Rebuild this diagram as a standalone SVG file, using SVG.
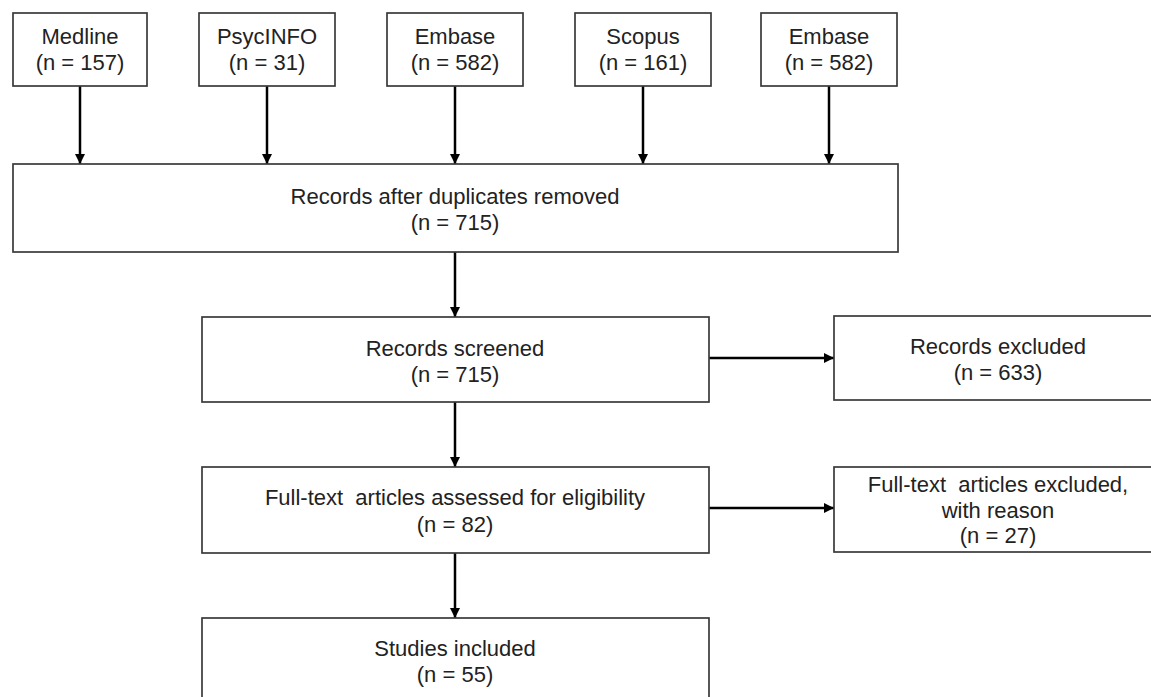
<svg xmlns="http://www.w3.org/2000/svg" width="1151" height="697" viewBox="0 0 1151 697">
<style>
.box{fill:#fff;stroke:#3a3a3a;stroke-width:1.7}
.t{font-family:"Liberation Sans",Arial,sans-serif;font-size:22px;fill:#222;text-anchor:middle}
.c{stroke:#000;stroke-width:2.5;fill:none;marker-end:url(#ah)}
</style>
<defs>
<marker id="ah" markerUnits="userSpaceOnUse" markerWidth="11" markerHeight="11" refX="10" refY="5.5" orient="auto" viewBox="0 0 11 11">
<path d="M0,0.5 L10,5.5 L0,10.5 z" fill="#000"/>
</marker>
</defs>
<rect width="1151" height="697" fill="#fff"/>
<g id="connectors">
<line class="c" x1="80" y1="86" x2="80" y2="164"/>
<line class="c" x1="267" y1="86" x2="267" y2="164"/>
<line class="c" x1="455" y1="86" x2="455" y2="164"/>
<line class="c" x1="643" y1="86" x2="643" y2="164"/>
<line class="c" x1="829" y1="86" x2="829" y2="164"/>
<line class="c" x1="455" y1="252" x2="455" y2="317"/>
<line class="c" x1="455" y1="402" x2="455" y2="467"/>
<line class="c" x1="455" y1="553" x2="455" y2="618"/>
<line class="c" x1="709" y1="358" x2="834" y2="358"/>
<line class="c" x1="709" y1="508" x2="834" y2="508"/>
</g>
<g id="medline">
<rect class="box" x="13" y="13" width="134" height="73"/>
<text class="t" x="80" y="44">Medline</text>
<text class="t" x="80" y="70">(n = 157)</text>
</g>
<g id="psycinfo">
<rect class="box" x="199" y="13" width="136" height="73"/>
<text class="t" x="267" y="44">PsycINFO</text>
<text class="t" x="267" y="70">(n = 31)</text>
</g>
<g id="embase1">
<rect class="box" x="387" y="13" width="136" height="73"/>
<text class="t" x="455" y="44">Embase</text>
<text class="t" x="455" y="70">(n = 582)</text>
</g>
<g id="scopus">
<rect class="box" x="575" y="13" width="136" height="73"/>
<text class="t" x="643" y="44">Scopus</text>
<text class="t" x="643" y="70">(n = 161)</text>
</g>
<g id="embase2">
<rect class="box" x="761" y="13" width="136" height="73"/>
<text class="t" x="829" y="44">Embase</text>
<text class="t" x="829" y="70">(n = 582)</text>
</g>
<g id="duplicates">
<rect class="box" x="13" y="164" width="885" height="88"/>
<text class="t" x="455" y="204">Records after duplicates removed</text>
<text class="t" x="455" y="230">(n = 715)</text>
</g>
<g id="screened">
<rect class="box" x="202" y="317" width="507" height="85"/>
<text class="t" x="455" y="356">Records screened</text>
<text class="t" x="455" y="382">(n = 715)</text>
</g>
<g id="excluded">
<rect class="box" x="834" y="316" width="328" height="84"/>
<text class="t" x="998" y="354">Records excluded</text>
<text class="t" x="998" y="380">(n = 633)</text>
</g>
<g id="fulltext">
<rect class="box" x="202" y="467" width="507" height="86"/>
<text class="t" x="455" y="505" xml:space="preserve">Full-text  articles assessed for eligibility</text>
<text class="t" x="455" y="532">(n = 82)</text>
</g>
<g id="fulltext-excluded">
<rect class="box" x="834" y="467" width="328" height="85"/>
<text class="t" x="998" y="492" xml:space="preserve">Full-text  articles excluded,</text>
<text class="t" x="998" y="518">with reason</text>
<text class="t" x="998" y="543">(n = 27)</text>
</g>
<g id="included">
<rect class="box" x="202" y="618" width="507" height="86"/>
<text class="t" x="455" y="656">Studies included</text>
<text class="t" x="455" y="682">(n = 55)</text>
</g>
</svg>
